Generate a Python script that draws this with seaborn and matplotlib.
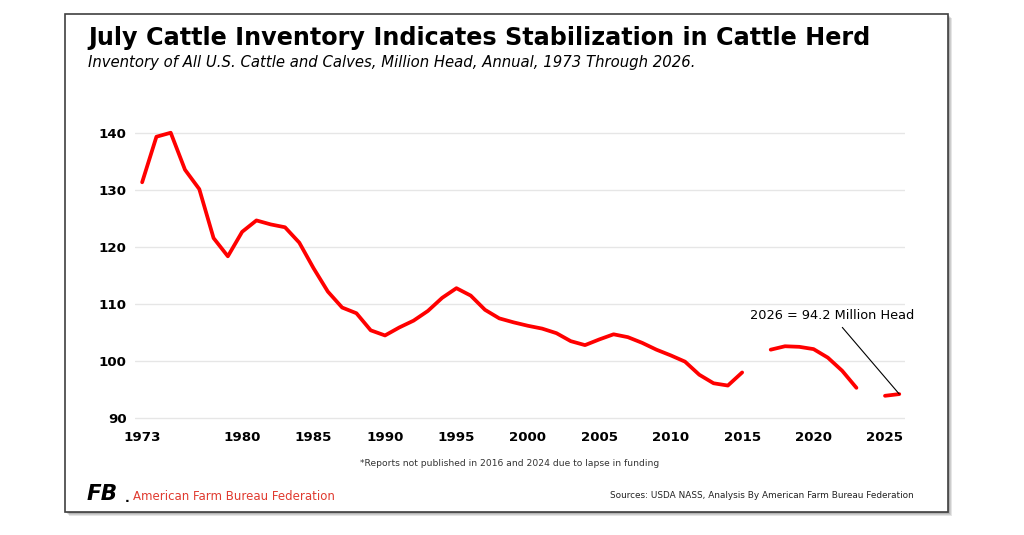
import numpy as np
import pandas as pd
import matplotlib
matplotlib.use("Agg")
import matplotlib.pyplot as plt
from matplotlib.patches import Rectangle
import seaborn as sns

# July inventory, million head (2016 and 2024 not published)
years = list(range(1973, 2027))
head = [131.4, 139.4, 140.1, 133.6, 130.2, 121.6, 118.4, 122.7, 124.7, 124.0,
        123.5, 120.8, 116.3, 112.2, 109.4, 108.4, 105.4, 104.5, 105.9, 107.1,
        108.8, 111.1, 112.8, 111.5, 109.0, 107.5, 106.8, 106.2, 105.7, 104.9,
        103.5, 102.8, 103.8, 104.7, 104.2, 103.2, 102.0, 101.0, 99.9, 97.6,
        96.1, 95.7, 98.0, np.nan, 102.0, 102.6, 102.5, 102.1, 100.6, 98.3,
        95.3, np.nan, 93.9, 94.2]
xticks = [1973, 1980, 1985, 1990, 1995, 2000, 2005, 2010, 2015, 2020, 2025]
yticks = [90, 100, 110, 120, 130, 140]

df = pd.DataFrame({"year": years, "head": head})
df["segment"] = df["head"].isna().cumsum()
df = df.dropna()

sns.set_theme(style="white")
plt.rcParams["font.family"] = ["DejaVu Sans"]

fig = plt.figure(figsize=(10.24, 5.35), dpi=100)

# framed card with a soft shadow
for i, a in enumerate([0.10, 0.10, 0.12, 0.15]):
    off = (4 - i) / 1024
    fig.patches.append(Rectangle((65 / 1024 + off, 23 / 535 - off * 1024 / 535),
                                 883 / 1024, 498 / 535, transform=fig.transFigure,
                                 facecolor="black", alpha=a, edgecolor="none", zorder=-2))
fig.patches.append(Rectangle((65 / 1024, 23 / 535), 883 / 1024, 498 / 535,
                             transform=fig.transFigure, facecolor="white",
                             edgecolor="#404040", linewidth=1.2, zorder=-1))

ax = fig.add_axes([135 / 1024, 0.1974, 770 / 1024, 0.5747])
ax.set_zorder(3)
ax.set_facecolor("none")
sns.lineplot(data=df, x="year", y="head", units="segment", estimator=None,
             color="#ff0000", linewidth=2.7, ax=ax, clip_on=False)

ax.set_xlim(1972.5, 2026.4)
ax.set_ylim(88, 142)
ax.set_xticks(xticks)
ax.set_yticks(yticks)
ax.set_xticklabels([str(t) for t in xticks], fontsize=9.6, fontweight="bold")
ax.set_yticklabels([str(t) for t in yticks], fontsize=9.6, fontweight="bold")
ax.tick_params(axis="both", length=0, pad=6, labelcolor="black")
ax.tick_params(axis="x", pad=1.5)
for y in yticks:
    ax.axhline(y, color="#e6e6e6", linewidth=1, zorder=0)
for s in ax.spines.values():
    s.set_visible(False)
ax.set_xlabel("")
ax.set_ylabel("")

ax.annotate("2026 = 94.2 Million Head", xy=(2026, 94.2), xytext=(2021.3, 108.0),
            ha="center", va="center", fontsize=9.3, color="black",
            arrowprops=dict(arrowstyle="-", color="black", lw=0.8,
                            shrinkA=2, shrinkB=0))

fig.text(88 / 1024, 1 - 38 / 535, "July Cattle Inventory Indicates Stabilization in Cattle Herd",
         fontsize=17.2, fontweight="bold", va="center", ha="left", color="black")
fig.text(88 / 1024, 1 - 62 / 535,
         "Inventory of All U.S. Cattle and Calves, Million Head, Annual, 1973 Through 2026.",
         fontsize=10.7, style="italic", va="center", ha="left", color="black")

fig.text(510 / 1024, 1 - 463 / 535,
         "*Reports not published in 2016 and 2024 due to lapse in funding",
         fontsize=6.6, ha="center", va="center", color="#333333")

# logo mark, approximated with text
fig.text(87 / 1024, 1 - 494 / 535, "FB", fontsize=15.5, fontweight="heavy",
         style="italic", ha="left", va="center", color="black")
fig.text(125 / 1024, 1 - 499 / 535, ".", fontsize=9, fontweight="bold",
         ha="left", va="center", color="black")
fig.text(133 / 1024, 1 - 496 / 535, "American Farm Bureau Federation", fontsize=8.5,
         ha="left", va="center", color="#e03a2f")
fig.text(610 / 1024, 1 - 496 / 535,
         "Sources: USDA NASS, Analysis By American Farm Bureau Federation",
         fontsize=6.4, ha="left", va="center", color="#222222")

fig.savefig("out.png", dpi=100)
